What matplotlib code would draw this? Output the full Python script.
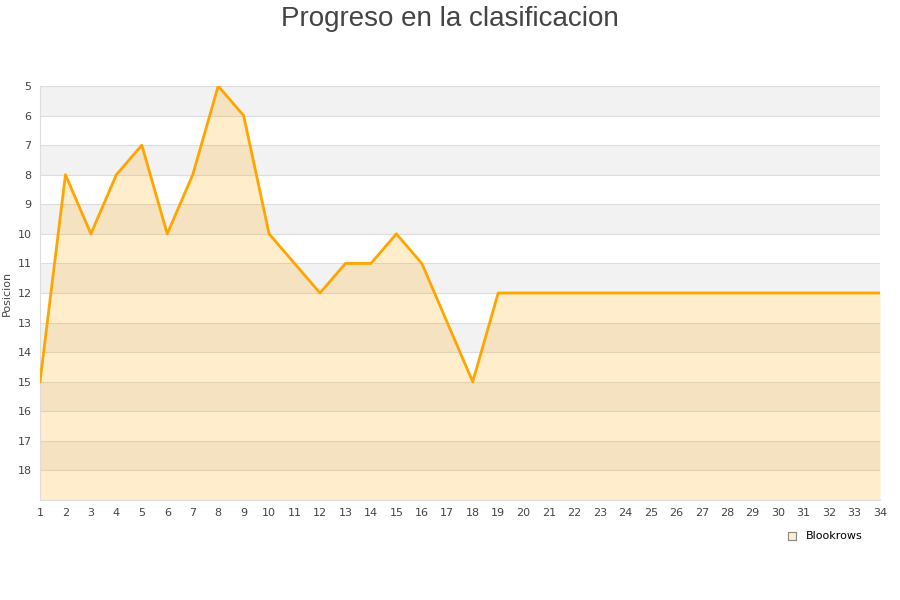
import matplotlib.pyplot as plt
import numpy as np

jornadas = list(range(1, 35))
posicion = [15, 8, 10, 8, 7, 10, 8, 5, 6, 10, 11, 12, 11, 11, 10, 11, 13, 15, 12,
            12, 12, 12, 12, 12, 12, 12, 12, 12, 12, 12, 12, 12, 12, 12]
equipo = "Blookrows"

y_top = 5
y_bottom = 19

fig = plt.figure(figsize=(9, 6), dpi=100)
ax = fig.add_axes([40/900, 100/600, 840/900, 414/600])

# alternating bands
for k in range(y_top, y_bottom):
	if (k - y_top) % 2 == 0:
		ax.axhspan(k, k + 1, color="#f2f2f2", lw=0, zorder=0)
for k in range(y_top, y_bottom + 1):
	ax.axhline(k, color="#dddddd", lw=0.8, zorder=1)

x = np.arange(len(jornadas))
ax.fill_between(x, posicion, y_bottom, color="#ffa500", alpha=0.2, lw=0, zorder=2)
ax.plot(x, posicion, color="#ffa500", lw=2.0, zorder=3)

ax.set_xlim(0, len(jornadas) - 1)
ax.set_ylim(y_bottom, y_top)
ax.set_xticks(x)
ax.set_xticklabels([str(j) for j in jornadas])
ax.set_yticks(range(y_top, y_bottom))
ax.tick_params(length=0, labelsize=8, colors="#444444", pad=6)
for s in ["top", "right"]:
	ax.spines[s].set_visible(False)
for s in ["left", "bottom"]:
	ax.spines[s].set_color("#dddddd")
ax.set_ylabel("Posicion", fontsize=8, color="#444444", labelpad=4)
ax.yaxis.set_label_coords(-0.034, 0.5)

fig.suptitle("Progreso en la clasificacion", fontsize=20, color="#444444", y=0.99,
	family="Liberation Sans")

ax.scatter([], [], marker="s", s=40, facecolor="#ffeccc", edgecolor="#888888", lw=0.8, label=equipo)
ax.legend(loc="upper right", bbox_to_anchor=(0.985, -0.065), frameon=False, fontsize=8,
	handletextpad=0.3, borderaxespad=0)

plt.savefig("out.png", dpi=100)
plt.close()
